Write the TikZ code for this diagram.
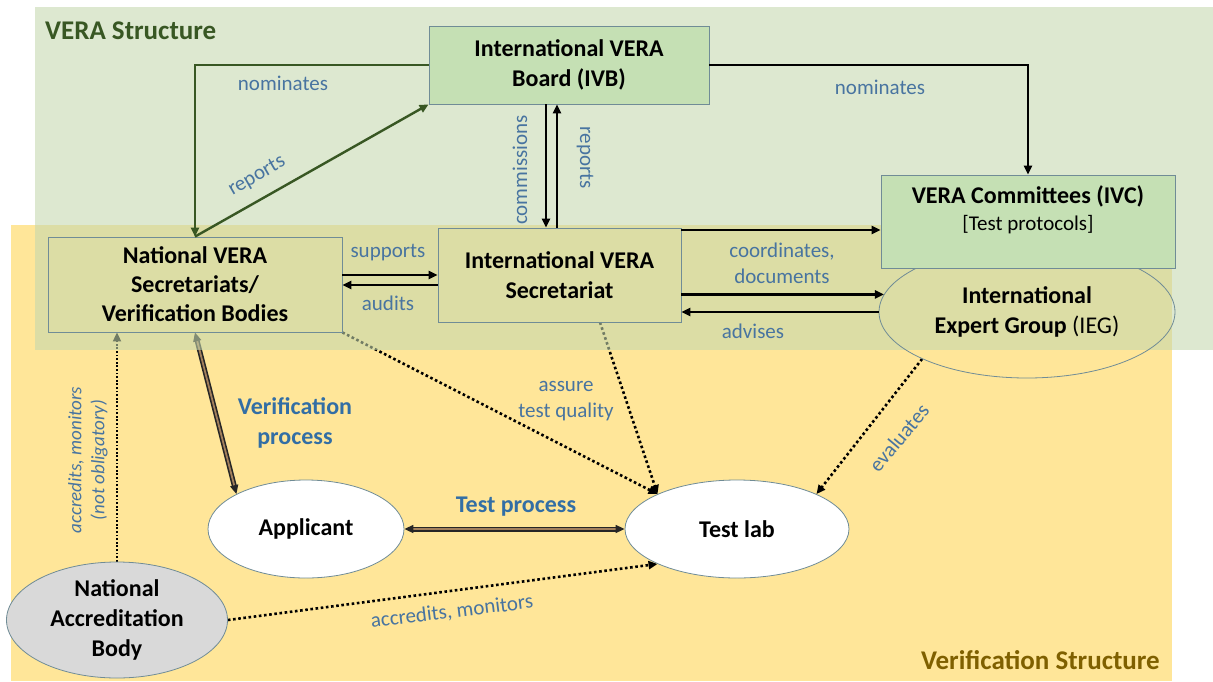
\documentclass[tikz,border=0pt]{standalone}
\usepackage{fontspec}
\setmainfont{Carlito}
\usetikzlibrary{arrows.meta,shapes.geometric}
\definecolor{verayellow}{RGB}{255,230,153}
\definecolor{veragreen}{RGB}{196,215,174}
\definecolor{boxgreen}{RGB}{197,224,180}
\definecolor{darkgreen}{RGB}{56,87,35}
\definecolor{labelblue}{RGB}{72,116,160}
\definecolor{procblue}{RGB}{50,110,165}
\definecolor{olivetext}{RGB}{127,96,0}
\definecolor{edgegray}{RGB}{112,140,150}
\definecolor{nabgray}{RGB}{217,217,217}
\pgfdeclarelayer{bg}
\pgfdeclarelayer{lines}
\pgfdeclarelayer{veil}
\pgfsetlayers{bg,lines,veil,main}
\newcommand{\bigbold}{\fontsize{24}{30}\selectfont\bfseries}
\newcommand{\lblsize}{\fontsize{21}{26}\selectfont}
\begin{document}
\begin{tikzpicture}[x=1pt,y=-1pt,
    >={Triangle[length=9pt,width=8pt]},
    box/.style={draw=edgegray,line width=0.8pt,inner sep=0pt,align=center,font=\bigbold},
    oval/.style={ellipse,draw=edgegray,line width=0.8pt,inner sep=0pt,align=center,font=\bigbold},
    lbl/.style={text=labelblue,font=\lblsize,align=center,inner sep=0pt},
    arr/.style={->,line width=2.4pt},
    dotarr/.style={->,line width=2.6pt,dash pattern=on 2.6pt off 2.6pt},
    proc/.style={line width=1.6pt,draw=black!85,double=brown!55!gray,double distance=1.8pt}]
    \useasboundingbox (0,0) rectangle (1213,681);
    \node[oval,minimum width=296pt,minimum height=132pt] (ieg) at (1027,312) {International\\Expert Group \mdseries(IEG)};
    \node[box,fill=boxgreen,minimum width=280pt,minimum height=78pt] (ivb) at (569,65) {International VERA\\Board (IVB)};
    \node[box,fill=boxgreen,minimum width=294pt,minimum height=93pt] (ivc) at (1028,221.5) {};
    \node[align=center,font=\bigbold,inner sep=0pt] (ivctext) at (1028,210) {VERA Committees (IVC)\\[-3pt]{\mdseries\lblsize{[}Test protocols{]}}};
    \node[box,minimum width=243pt,minimum height=94pt] (ivs) at (559.5,275) {International VERA\\Secretariat};
    \node[box,minimum width=294pt,minimum height=95pt] (nvs) at (195,284.5) {National VERA\\[-1pt]Secretariats/\\[-1pt]Verification Bodies};
    \node[oval,fill=white,minimum width=196pt,minimum height=98pt] (app) at (306,529) {Applicant};
    \node[oval,fill=white,minimum width=224pt,minimum height=98pt] (lab) at (737,529) {Test lab};
    \node[oval,fill=nabgray,minimum width=221pt,minimum height=116pt] (nab) at (117,620) {National\\Accreditation\\Body};
    \node[anchor=west,text=darkgreen,font=\fontsize{27}{32}\selectfont\bfseries,inner sep=0pt] (verastr) at (45,31) {VERA Structure};
    \node[anchor=east,text=olivetext,font=\fontsize{27}{32}\selectfont\bfseries,inner sep=0pt] (verifstr) at (1160,660) {Verification Structure};
    \begin{pgfonlayer}{bg}
        \fill[verayellow] (11,225) rectangle (1172,681);
    \end{pgfonlayer}
    \begin{pgfonlayer}{veil}
        \fill[veragreen,fill opacity=0.58] (35,7) rectangle (1213,350);
    \end{pgfonlayer}
    \begin{pgfonlayer}{lines}
        \draw[dotarr] (nvs.south east) -- (lab.north west);
        \draw[dotarr] (600,0 |- ivs.south) -- (lab.north west);
        \draw[dotarr] (ieg.south west) -- (lab.north east);
        \draw[dotarr] (nab.east) -- (lab.south west);
        \draw[->,line width=1.8pt,dash pattern=on 1.8pt off 1.8pt] (nab.north) -- (nab.north |- nvs.south);
        \draw[proc,<->] (nvs.south) -- (app.north west);
        \draw[proc,<->] (app.east) -- (lab.west);
    \end{pgfonlayer}
    \draw[arr,darkgreen] (ivb.west) -| (nvs.north);
    \draw[arr,darkgreen] (nvs.north) -- (ivb.south west);
    \draw[arr] (ivb.east) -| (ivc.north);
    \draw[arr] (546,0 |- ivb.south) -- (546,0 |- ivs.north);
    \draw[arr] (557,0 |- ivs.north) -- (557,0 |- ivb.south);
    \draw[arr] (ivs.east |- 0,230) -- (ivc.west |- 0,230);
    \draw[arr] (ivs.east |- ieg.173.5) -- (ieg.173.5);
    \draw[arr] (ieg.west) -- (ivs.east |- ieg.west);
    \draw[arr] (nvs.east |- 0,275) -- (ivs.west |- 0,275);
    \draw[arr] (ivs.west |- 0,285) -- (nvs.east |- 0,285);
    \node[lbl] (nomleft) at (283,83) {nominates};
    \node[lbl] (nomright) at (880,87) {nominates};
    \node[lbl,rotate=30] (repdiag) at (257,176) {reports};
    \node[lbl,rotate=90] (commis) at (520,170) {commissions};
    \node[lbl,rotate=-90] (repvert) at (585,158) {reports};
    \node[lbl] (supp) at (388,253) {supports};
    \node[lbl] (aud) at (388,303) {audits};
    \node[lbl] (coord) at (782,263) {coordinates,\\documents};
    \node[lbl] (adv) at (753,331) {advises};
    \node[lbl] (assure) at (566,401) {assure\\test quality};
    \node[lbl,rotate=50] (evals) at (899,438) {evaluates};
    \node[lbl,rotate=7] (accmon) at (452,612) {accredits, monitors};
    \node[lbl,rotate=90,font=\fontsize{19}{23}\selectfont\itshape] (accnab) at (88,460) {accredits, monitors\\(not obligatory)};
    \node[lbl,text=procblue,font=\bigbold] (verproc) at (295,423) {Verification\\process};
    \node[lbl,text=procblue,font=\bigbold] (testproc) at (516,507) {Test process};
\end{tikzpicture}
\end{document}
